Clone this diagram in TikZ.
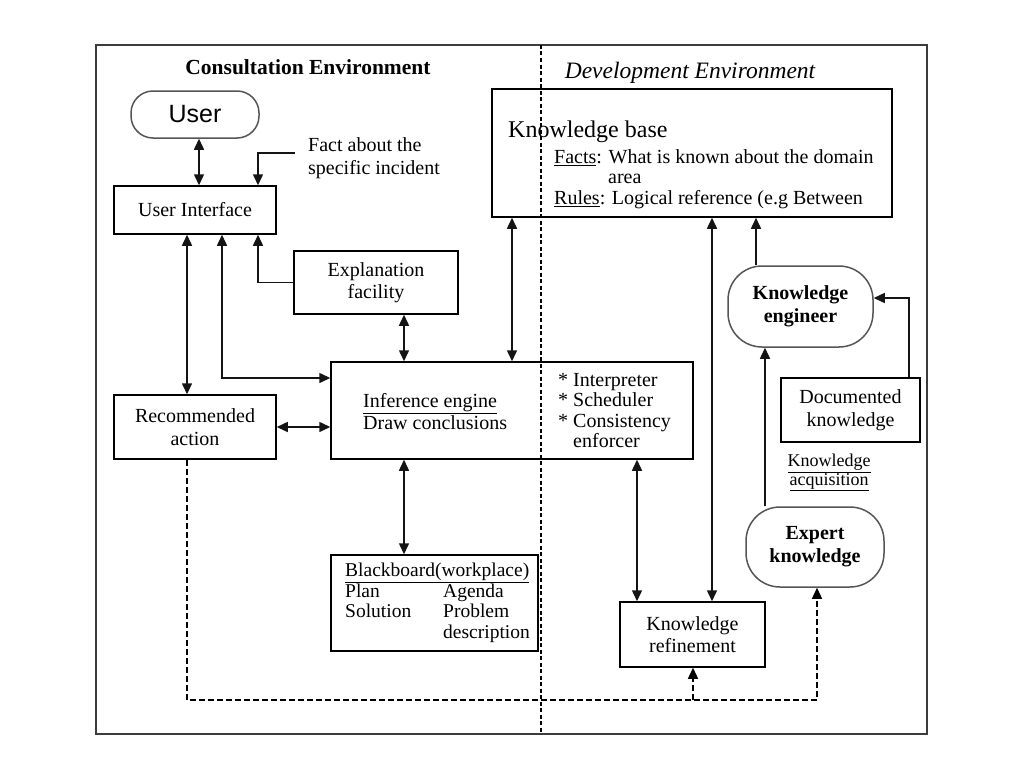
\documentclass[tikz,border=0pt]{standalone}
\usepackage{fontspec}
\setmainfont{Liberation Serif}
\newfontfamily\arialfont{Liberation Sans}
\usepackage{xcolor}
\usepackage{tikz}
\usetikzlibrary{arrows.meta, positioning}
\definecolor{framegray}{RGB}{60,60,60}
\definecolor{termgray}{RGB}{85,85,85}
\definecolor{linkblack}{RGB}{20,20,20}

\begin{document}
\begin{tikzpicture}[x=1pt, y=-1pt, >={Triangle[length=11pt,width=10pt]},
  every node/.style={font=\fontsize{20}{22.5}\selectfont, inner sep=0pt},
  procbox/.style={rectangle, draw, line width=1.5pt, align=center},
  termbox/.style={rectangle, draw=termgray, line width=1.5pt, align=center},
  link/.style={line width=1.5pt, linkblack},
  dlink/.style={line width=1.3pt, dash pattern=on 6pt off 3pt}]
\useasboundingbox (0,0) rectangle (1024,768);

% Frame and divider
\draw[framegray, line width=1.8pt] (96,45) rectangle (927,734);
\draw[line width=1.2pt, dash pattern=on 4pt off 2.5pt] (541,45) -- (541,734);

% Titles
\node[font=\bfseries\fontsize{21.5}{24}\selectfont] at (308,67) (consult) {Consultation Environment};
\node[font=\itshape\fontsize{23.5}{26}\selectfont] at (690,73) (develop) {Development Environment};

% Consultation side
\node[termbox, rounded corners=22pt, minimum width=128pt, minimum height=47pt, font=\arialfont\fontsize{25}{28}\selectfont] at (195,114.5) (user) {User};
\node[procbox, minimum width=162pt, minimum height=48pt] at (195,210) (ui) {User Interface};
\node[anchor=west, align=left] at (308,158) (fact) {Fact about the\\specific incident};
\node[procbox, minimum width=164pt, minimum height=63pt] at (376,282.5) (expl) {Explanation\\facility};
\node[procbox, minimum width=162pt, minimum height=64pt] at (195,427) (recom) {Recommended\\action};

% Inference engine
\node[procbox, minimum width=362pt, minimum height=97pt] at (512,410.5) (infer) {};
\node[anchor=west, align=left] at (363,411.5) (ietext) {\underline{Inference engine}\\Draw conclusions};
\node[anchor=west, align=left, font=\fontsize{20}{20.5}\selectfont] at (558,410.5) (ietasks) {* Interpreter\\* Scheduler\\* Consistency\\\hspace{15pt}enforcer};

% Blackboard
\node[procbox, minimum width=207pt, minimum height=96pt] at (434.5,603) (board) {};
\node[anchor=west, align=left, font=\fontsize{19.5}{20.5}\selectfont] at (345,603) (bbtext) {\underline{Blackboard(workplace)}\\\makebox[98pt][l]{Plan}Agenda\\\makebox[98pt][l]{Solution}Problem\\\hspace{98pt}description};

% Development side
\node[procbox, minimum width=400pt, minimum height=128pt] at (692,153) (kbase) {};
\node[anchor=west, font=\fontsize{24}{28}\selectfont] at (508,132) (kbtitle) {Knowledge base};
\node[anchor=west, align=left, font=\fontsize{20}{20.5}\selectfont] at (554,179) (kbitems) {\underline{Facts}: What is known about the domain\\\hspace{54pt}area\\\underline{Rules}: Logical reference (e.g Between};
\node[termbox, rounded corners=34pt, minimum width=145pt, minimum height=81pt, font=\bfseries\fontsize{20}{23}\selectfont] at (800.5,306.5) (keng) {Knowledge\\engineer};
\node[procbox, minimum width=139pt, minimum height=64pt] at (850.5,410) (docu) {Documented\\knowledge};
\node[align=center, font=\fontsize{18}{17}\selectfont] at (829,472.5) (acq) {\underline{Knowledge}\\\underline{acquisition}};
\node[termbox, rounded corners=34pt, minimum width=138pt, minimum height=80pt, font=\bfseries\fontsize{20}{23}\selectfont] at (815,547) (expert) {Expert\\knowledge};
\node[procbox, minimum width=145pt, minimum height=65pt] at (692.5,634.5) (refine) {Knowledge\\refinement};

% Connections: user interface
\draw[link, <->] ([xshift=4pt]user.south) -- ([xshift=4pt]ui.north);
\coordinate (factin) at (295,153);
\draw[link, ->] (factin) -| ([xshift=63pt]ui.north);
\draw[link, <->] ([xshift=-8pt]ui.south) -- ([xshift=-8pt]recom.north);
\draw[link, <->] ([xshift=27pt]ui.south) |- ([yshift=32.5pt]infer.west);
\draw[link, ->] (expl.west) -| ([xshift=63pt]ui.south);

% Connections: inference engine
\draw[link, <->] ([xshift=28pt]expl.south) -- ([xshift=28pt]expl.south |- infer.north);
\draw[link, <->] ([xshift=-180pt]kbase.south) -- (infer.north);
\draw[link, <->] (recom.east) -- (recom.east -| infer.west);
\draw[link, <->] ([xshift=-108pt]infer.south) -- ([xshift=-108pt]infer.south |- board.north);
\draw[link, <->] ([xshift=125pt]infer.south) -- ([xshift=125pt]infer.south |- refine.north);

% Connections: knowledge base
\draw[link, <->] ([xshift=20pt]kbase.south) -- ([xshift=20pt]kbase.south |- refine.north);
\draw[link, ->] ([xshift=-44.5pt]keng.north) -- ([xshift=-44.5pt]keng.north |- kbase.south);
\draw[link, ->] ([xshift=-50pt]expert.north) -- ([xshift=-50pt]expert.north |- keng.south);
\draw[link, ->] ([xshift=58.5pt]docu.north) |- ([yshift=8.5pt]keng.east);

% Feedback loop (dashed)
\coordinate (dashmeet) at (693,700);
\draw[dlink, ->] ([xshift=-8pt]recom.south) |- (dashmeet) -| ([xshift=2pt]expert.south);
\draw[dlink, ->] (dashmeet) -- (dashmeet |- refine.south);
\end{tikzpicture}
\end{document}
